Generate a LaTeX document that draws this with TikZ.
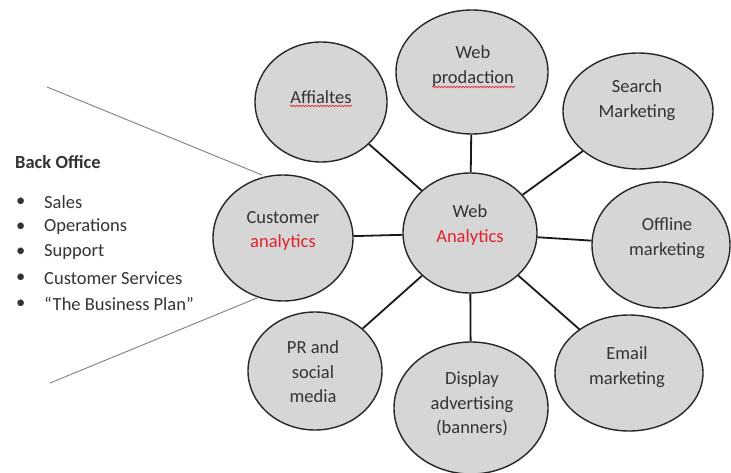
\documentclass[tikz,border=0pt]{standalone}
\usepackage{fontspec}
\setmainfont{Carlito}
\usetikzlibrary{shapes.geometric,decorations.pathmorphing,calc}
\definecolor{bub}{HTML}{D6D6D6}
\definecolor{redt}{HTML}{E3222B}
\definecolor{side}{HTML}{7F7F7F}
\definecolor{txt}{HTML}{333333}
\begin{document}
\begin{tikzpicture}[x=1pt,y=-1pt,
  bubble/.style={ellipse, draw=black!85, line width=1.4pt, fill=bub, inner sep=0pt},
  lab/.style={align=center, inner sep=0pt, text=txt, font=\fontsize{18.5}{24.5}\selectfont},
  link/.style={draw=black!90, line width=1.8pt},
  sideline/.style={draw=side, line width=0.9pt},
  listtext/.style={anchor=west, inner sep=0pt, text=txt, font=\fontsize{18.5}{22}\selectfont},
  squig/.style={draw=redt, line width=0.6pt, decorate, decoration={snake, amplitude=0.8pt, segment length=3pt}}]
\useasboundingbox (0,0) rectangle (731,473);

% side lines
\coordinate (s1a) at (47,87);
\coordinate (s1b) at (262,175);
\coordinate (s2a) at (50,383);
\coordinate (s2b) at (257,298);
\draw[sideline] (s1a) -- (s1b);
\draw[sideline] (s2a) -- (s2b);

% bubbles
\node[bubble, minimum width=140pt, minimum height=126pt] (cust) at (283,238) {};
\node[bubble, minimum width=134pt, minimum height=120pt] (web) at (470,233) {};
\node[bubble, minimum width=132pt, minimum height=120pt] (aff) at (321,102) {};
\node[bubble, minimum width=152pt, minimum height=124pt] (prod) at (472,72) {};
\node[bubble, minimum width=150pt, minimum height=116pt] (srch) at (638,111) {};
\node[bubble, minimum width=138pt, minimum height=126pt] (offl) at (661,245) {};
\node[bubble, minimum width=134pt, minimum height=118pt] (pr) at (315,371) {};
\node[bubble, minimum width=154pt, minimum height=132pt] (disp) at (471,408) {};
\node[bubble, minimum width=148pt, minimum height=116pt] (mail) at (629,373) {};

% links
\foreach \n in {cust,aff,prod,srch,offl,pr,disp,mail}
  \draw[link] (web) -- (\n);

% labels
\node[lab] (custL) at (283,231) {Customer\\\textcolor{redt}{analytics}};
\node[lab] (webL) at (470,225) {Web\\\textcolor{redt}{Analytics}};
\node[lab] (affL) at (321,97) {Affialtes};
\node[lab] (prodL) at (473,66) {Web\\prodaction};
\node[lab] (srchL) at (637,100) {Search\\Marketing};
\node[lab] (offlL) at (667,238) {Offline\\marketing};
\node[lab] (prL) at (313,372) {PR and\\social\\media};
\node[lab] (dispL) at (472,404) {Display\\advertising\\(banners)};
\node[lab] (mailL) at (627,367) {Email\\marketing};

% spell-check squiggles
\coordinate (q1a) at (290,106);
\coordinate (q1b) at (352,106);
\coordinate (q2a) at (432,87);
\coordinate (q2b) at (515,87);
\draw[squig] (q1a) -- (q1b);
\draw[squig] (q2a) -- (q2b);

% back office list
\node[listtext, font=\fontsize{18.5}{22}\selectfont\bfseries] (bo) at (15,162) {Back Office};
\foreach \t/\y [count=\i] in {Sales/202, Operations/227, Support/252, Customer Services/278, “The Business Plan”/304}{
  \node[listtext] (b\i) at (16,\y) {•};
  \node[listtext] (t\i) at (44,\y) {\t};
}
\end{tikzpicture}
\end{document}
